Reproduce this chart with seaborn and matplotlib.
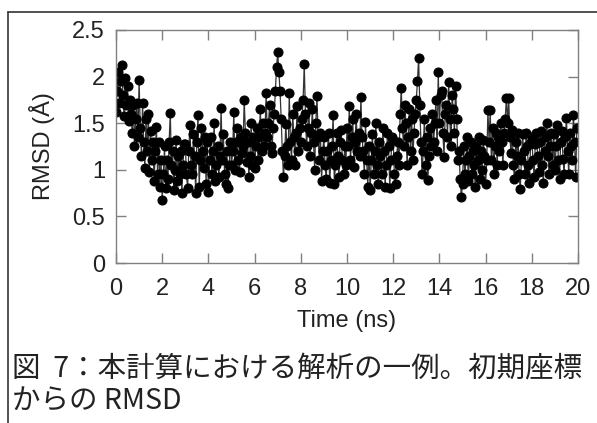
import numpy as np
import pandas as pd
import seaborn as sns
import matplotlib.pyplot as plt
from matplotlib.lines import Line2D

sns.set_style('ticks')
plt.rcParams['font.family'] = ['Liberation Sans', 'DejaVu Sans']

# RMSD values (Å), one frame every 0.05 ns
rmsd = [
    1.62, 1.85, 2.05, 1.72, 1.95, 2.12, 1.80, 1.58, 1.98, 1.70, 1.90, 1.52, 1.75, 1.60, 1.40, 1.70, 1.25, 1.55, 1.72, 1.35,  # 0 ns
    1.96, 1.45, 1.15, 1.72, 1.30, 1.02, 1.55, 1.20, 1.60, 0.98, 1.42, 1.10, 1.30, 0.88, 1.20, 1.46, 0.95, 1.30, 0.82, 1.10,  # 1 ns
    0.68, 0.95, 1.25, 0.80, 1.10, 0.90, 1.30, 1.61, 1.05, 1.20, 0.78, 1.00, 1.32, 0.88, 1.15, 0.95, 1.20, 0.75, 1.05, 1.28,  # 2 ns
    1.28, 0.95, 0.80, 1.20, 1.48, 1.05, 0.95, 1.38, 1.15, 0.75, 1.30, 1.59, 0.82, 1.10, 1.45, 1.20, 1.02, 1.35, 0.85, 1.30,  # 3 ns
    0.76, 1.10, 1.35, 0.95, 1.20, 1.50, 0.88, 1.05, 1.25, 0.92, 1.15, 1.66, 1.10, 1.38, 0.95, 0.85, 1.20, 0.80, 1.05, 1.30,  # 4 ns
    1.05, 1.20, 1.62, 1.00, 1.30, 1.45, 1.10, 0.98, 1.35, 1.18, 1.25, 1.75, 1.40, 1.08, 1.30, 0.92, 1.15, 1.50, 1.05, 1.35,  # 5 ns
    1.02, 1.25, 1.45, 1.10, 1.35, 1.65, 1.20, 1.50, 1.25, 1.40, 1.82, 1.35, 1.50, 1.70, 1.25, 1.18, 1.45, 1.60, 1.85, 2.10,  # 6 ns
    2.26, 2.05, 1.85, 1.55, 1.20, 0.92, 1.15, 1.49, 1.25, 1.05, 1.82, 1.30, 1.10, 1.60, 1.35, 1.05, 1.40, 1.68, 1.20, 1.45,  # 7 ns
    1.30, 1.55, 1.75, 2.13, 1.60, 1.25, 1.45, 1.72, 1.15, 1.40, 1.65, 1.30, 1.00, 1.50, 1.79, 1.35, 1.10, 1.40, 0.88, 1.20,  # 8 ns
    1.35, 1.05, 0.90, 1.20, 1.39, 0.86, 1.10, 1.25, 1.59, 0.85, 1.05, 1.40, 1.15, 0.92, 1.30, 1.43, 1.10, 0.95, 1.25, 1.05,  # 9 ns
    1.45, 1.25, 1.68, 1.10, 1.35, 1.55, 1.03, 1.30, 1.60, 1.20, 1.40, 1.15, 1.78, 1.35, 1.20, 0.95, 1.51, 1.10, 0.82, 1.25,  # 10 ns
    0.78, 1.10, 1.38, 0.95, 1.20, 1.50, 1.05, 0.85, 1.30, 1.15, 0.95, 1.45, 1.20, 0.82, 1.05, 1.40, 1.25, 0.80, 1.10, 1.35,  # 11 ns
    1.32, 0.95, 0.85, 1.15, 1.30, 1.05, 1.60, 1.88, 1.45, 1.25, 1.70, 1.50, 1.05, 1.35, 1.65, 1.20, 1.55, 1.10, 1.40, 1.60,  # 12 ns
    1.75, 1.95, 2.20, 1.70, 1.30, 0.96, 1.20, 1.55, 1.05, 1.35, 0.89, 1.15, 1.45, 1.25, 1.60, 1.30, 1.50, 1.75, 1.20, 2.05,  # 13 ns
    1.50, 1.80, 1.85, 1.40, 1.14, 1.60, 1.70, 1.35, 1.94, 1.55, 1.25, 1.80, 1.65, 1.40, 1.90, 1.55, 1.10, 1.20, 0.90, 0.71,  # 14 ns
    0.85, 1.25, 0.95, 1.10, 1.35, 0.88, 1.15, 1.30, 0.95, 1.20, 1.05, 0.82, 1.25, 1.10, 1.35, 0.90, 1.20, 1.00, 1.32, 1.15,  # 15 ns
    0.85, 1.10, 1.64, 1.30, 1.64, 1.10, 1.45, 0.96, 1.25, 1.40, 1.05, 1.35, 1.20, 1.50, 1.30, 1.05, 1.40, 1.55, 1.77, 1.50,  # 16 ns
    1.77, 1.35, 1.18, 1.43, 1.05, 0.90, 1.30, 1.15, 1.40, 0.95, 0.79, 1.10, 1.38, 1.20, 0.95, 1.40, 1.25, 1.05, 0.86, 1.30,  # 17 ns
    1.35, 1.10, 0.92, 1.28, 1.40, 1.15, 0.98, 1.30, 1.42, 1.05, 0.86, 1.20, 1.35, 1.50, 1.15, 0.95, 1.25, 1.40, 1.05, 1.38,  # 18 ns
    1.00, 1.25, 1.48, 1.10, 0.90, 1.30, 1.42, 1.12, 0.95, 1.35, 1.56, 1.20, 0.95, 1.40, 1.25, 1.10, 1.59, 1.30, 0.92, 1.45,  # 19 ns
    1.45,  # 20 ns
]
time_ns = np.round(np.arange(len(rmsd)) * 0.05, 2)

x_ticks = list(range(0, 21, 2))
y_ticks = [0, 0.5, 1, 1.5, 2, 2.5]
y_tick_labels = ['0', '0.5', '1', '1.5', '2', '2.5']

df = pd.DataFrame({'time': time_ns, 'rmsd': rmsd})

fig = plt.figure(figsize=(5.97, 4.23), dpi=100)
ax = fig.add_axes([116 / 597, 1 - 263 / 423, 462 / 597, 233 / 423])
sns.lineplot(data=df, x='time', y='rmsd', ax=ax, color='#333333', linewidth=0.9,
             marker='o', markersize=6.5, markerfacecolor='black',
             markeredgecolor='black')

ax.set_xlim(0, 20)
ax.set_ylim(0, 2.5)
ax.set_xticks(x_ticks)
ax.set_yticks(y_ticks)
ax.set_yticklabels(y_tick_labels)
ax.tick_params(direction='in', length=7, width=1, colors='#808080',
               labelcolor='#222222', top=True, right=True, labelsize=17)
ax.tick_params(axis='x', pad=11)
ax.tick_params(axis='y', pad=8)
for s in ax.spines.values():
    s.set_color('#808080')
    s.set_linewidth(1)

ax.set_xlabel('Time (ns)', fontsize=17, color='#222222', labelpad=7)
ax.set_ylabel('RMSD (Å)', fontsize=17, color='#222222', labelpad=12)

# page frame around the figure
fig.add_artist(Line2D([8 / 597, 1], [1 - 12 / 423, 1 - 12 / 423],
                      transform=fig.transFigure, color='#333333', lw=1.2))
fig.add_artist(Line2D([8 / 597, 8 / 597], [0, 1 - 12 / 423],
                      transform=fig.transFigure, color='#333333', lw=1.2))

cjk = ['Noto Sans CJK JP', 'DejaVu Sans']
fig.text(12 / 597, 1 - 368 / 423, '図  7：本計算における解析の一例。初期座標',
         fontsize=20.5, family=cjk, va='center', color='#222222')
fig.text(12 / 597, 1 - 401 / 423, 'からの RMSD',
         fontsize=20.5, family=cjk, va='center', color='#222222')

fig.savefig('out.png', dpi=100)
